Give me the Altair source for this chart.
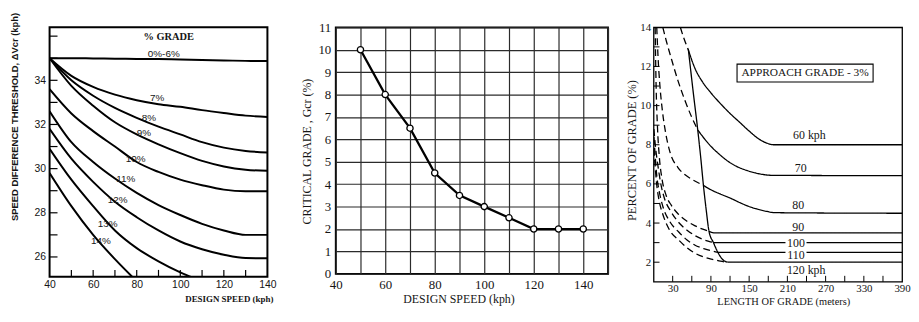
import altair as alt
import pandas as pd

SANS = "Liberation Sans"
SERIF = "Liberation Serif"
INK = "#151515"
TOP = -15

# ---------------- Panel 1: speed difference threshold vs design speed ----------------
P1_SPEED = [40, 50, 60, 70, 80, 90, 100, 110, 120, 130, 140]
P1_G0_6 = [35.0, 35.0, 34.99, 34.98, 34.97, 34.96, 34.94, 34.92, 34.9, 34.88, 34.87]
P1_G7 = [35.0, 34.2, 33.7, 33.35, 33.1, 32.92, 32.8, 32.65, 32.52, 32.4, 32.34]
P1_G8 = [35.0, 34.0, 33.3, 32.75, 32.3, 31.9, 31.55, 31.2, 30.95, 30.8, 30.73]
P1_G9 = [35.0, 33.75, 32.85, 32.1, 31.55, 31.1, 30.7, 30.35, 30.1, 29.95, 29.9]
P1_G10 = [33.6, 32.5, 31.7, 31.0, 30.3, 29.85, 29.5, 29.25, 29.05, 28.98, 28.98]
P1_G11 = [32.6, 31.2, 30.3, 29.55, 28.9, 28.35, 27.9, 27.5, 27.2, 27.0, 27.0]
P1_G12 = [31.8, 30.45, 29.4, 28.5, 27.8, 27.2, 26.7, 26.35, 26.1, 25.95, 25.94]
P1_G13_SPEED = [40, 50, 60, 70, 80, 90, 100, 110]
P1_G13 = [30.9, 29.5, 28.3, 27.2, 26.4, 25.8, 25.3, 24.9]
P1_G14_SPEED = [40, 50, 60, 70, 80]
P1_G14 = [29.8, 28.3, 27.0, 25.9, 24.9]

P1_LABELS = ["0%-6%", "7%", "8%", "9%", "10%", "11%", "12%", "13%", "14%"]
P1_LABEL_X = [92.4, 89.4, 85.6, 83.3, 79.5, 75.0, 71.2, 66.7, 63.6]
P1_LABEL_Y = [35.17, 33.2, 32.3, 31.6, 30.43, 29.53, 28.6, 27.5, 26.7]
P1_HEAD = ["% GRADE"]
P1_HEAD_X = [94.7]
P1_HEAD_Y = [35.96]
P1_YTICKS = [26, 27, 28, 29, 30, 31, 32, 33, 34, 35, 36]
P1_XTICKS = [50, 60, 70, 80, 90, 100, 110, 120, 130]

# ---------------- Panel 2: critical grade vs design speed ----------------
P2_SPEED = [50, 60, 70, 80, 90, 100, 110, 120, 130, 140]
P2_GRADE = [10, 8, 6.5, 4.5, 3.5, 3, 2.5, 2, 2, 2]

# ---------------- Panel 3: percent of grade vs length of grade ----------------
P3_60_DASH_M = [42, 48, 54.5]
P3_60_DASH_V = [14.0, 13.4, 12.85]
P3_60_M = [54.5, 65, 77, 90, 105, 120, 135, 150, 165, 178, 188, 390]
P3_60_V = [12.85, 11.9, 11.2, 10.65, 10.1, 9.6, 9.15, 8.7, 8.3, 8.08, 8.0, 8.0]
P3_70_DASH_M = [14.5, 20, 27, 38, 50, 60, 69.5]
P3_70_DASH_V = [14.0, 13.3, 12.5, 11.3, 10.2, 9.4, 8.75]
P3_70_M = [69.5, 80, 90, 102, 115, 130, 147, 160, 172, 185, 390]
P3_70_V = [8.75, 8.3, 7.92, 7.55, 7.2, 6.9, 6.68, 6.56, 6.48, 6.44, 6.42]
P3_80_DASH_M = [5, 7, 10, 14, 19, 26, 38, 50, 62, 78]
P3_80_DASH_V = [14.0, 12.5, 11.0, 9.7, 8.6, 7.6, 6.85, 6.45, 6.2, 5.93]
P3_80_M = [78, 90, 105, 122, 135, 147, 162, 177, 190, 390]
P3_80_V = [5.93, 5.7, 5.48, 5.25, 5.05, 4.88, 4.72, 4.6, 4.53, 4.5]
P3_90_DASH_M = [2.5, 4, 6, 9, 13, 19.5, 28, 39, 52, 64.5, 76, 87]
P3_90_DASH_V = [14.0, 11.0, 9.0, 7.4, 6.3, 5.43, 4.9, 4.45, 4.1, 3.87, 3.7, 3.58]
P3_90_M = [87, 95, 390]
P3_90_V = [3.58, 3.5, 3.5]
P3_100_DASH_M = [0.5, 3, 7, 12, 17, 27, 39.5, 52, 64.5, 77, 89.5, 94]
P3_100_DASH_V = [8.8, 7.9, 6.9, 5.9, 5.27, 4.6, 4.03, 3.65, 3.37, 3.17, 3.04, 3.0]
P3_100_A_M = [94, 207]
P3_100_B_M = [240, 390]
P3_100_LEVEL = 3.0
P3_110_DASH_M = [0.5, 2, 4.5, 9, 14.5, 25, 39.5, 52, 64.5, 80, 94.5, 101]
P3_110_DASH_V = [8.4, 7.7, 6.6, 5.6, 4.86, 4.1, 3.54, 3.15, 2.88, 2.68, 2.55, 2.5]
P3_110_A_M = [101, 207]
P3_110_B_M = [240, 390]
P3_110_LEVEL = 2.5
P3_120_DASH_M = [0.5, 2, 4.5, 9, 14.5, 25, 39.5, 52, 64.5, 80, 94.5, 105, 116]
P3_120_DASH_V = [7.8, 7.1, 6.1, 5.1, 4.45, 3.65, 3.13, 2.75, 2.47, 2.25, 2.13, 2.05, 2.0]
P3_120_M = [116, 390]
P3_120_V = [2.0, 2.0]
P3_LIMIT_M = [54.5, 62, 69, 74, 78, 82.5, 87, 94, 101, 108, 116]
P3_LIMIT_V = [12.9, 10.75, 8.85, 7.35, 6.0, 4.7, 3.58, 3.0, 2.5, 2.15, 2.0]

P3_LABELS = ["60 kph", "70", "80", "90", "100", "110", "120 kph"]
P3_LABEL_M = [244.5, 231, 227, 227, 223.5, 223.5, 239.5]
P3_LABEL_V = [8.49, 6.81, 4.91, 3.82, 3.0, 2.36, 1.59]
P3_BOX_M = [131, 344.5]
P3_BOX_V = [11.21, 12.12]
P3_BOX_TEXT = "APPROACH  GRADE - 3%"
P3_YTICKS = [2, 3, 4, 5, 6, 7, 8, 9, 10, 11, 12, 13]
P3_XTICKS = [30, 60, 90, 120, 150, 180, 210, 240, 270, 300, 330, 360]


def spacer(x, y):
    return alt.Chart(pd.DataFrame({"s": [0]})).mark_rule(color="white", strokeWidth=0.5).encode(
        x=alt.value(x), x2=alt.value(x), y=alt.value(y), y2=alt.value(y + 1))


# ================= Panel 1 =================
W1, H1 = 220, 252
rows = []
for g, xs, ys in [("0-6", P1_SPEED, P1_G0_6), ("7", P1_SPEED, P1_G7), ("8", P1_SPEED, P1_G8),
                  ("9", P1_SPEED, P1_G9), ("10", P1_SPEED, P1_G10), ("11", P1_SPEED, P1_G11),
                  ("12", P1_SPEED, P1_G12), ("13", P1_G13_SPEED, P1_G13), ("14", P1_G14_SPEED, P1_G14)]:
    for s, v in zip(xs, ys):
        rows.append({"x": s, "y": v, "grade": g})
df1 = pd.DataFrame(rows)

sx1 = alt.Scale(domain=[40, 140], nice=False, zero=False)
sy1 = alt.Scale(domain=[25.1, 36.4], nice=False, zero=False)
ax1 = alt.Axis(values=[40, 60, 80, 100, 120, 140], ticks=False, domain=False, grid=False,
               labelFlush=False, labelOverlap=False,
               labelFont=SANS, labelFontSize=10.5, labelColor=INK, labelPadding=3,
               title="DESIGN SPEED  (kph)", titleFont=SERIF, titleFontWeight="bold", titleFontSize=9,
               titleColor=INK, titleX=181, titleY=22, titleAlign="center", titleBaseline="middle")
ay1 = alt.Axis(values=[26, 28, 30, 32, 34], ticks=False, domain=False, grid=False, labelOverlap=False,
               labelFont=SANS, labelFontSize=10.5, labelColor=INK, labelPadding=4,
               title="SPEED DIFFERENCE THRESHOLD, ΔVcr  (kph)", titleFont=SANS, titleFontWeight="bold",
               titleFontSize=9.5, titleColor=INK, titleX=-35, titleY=90, titleAngle=270,
               titleAlign="center", titleBaseline="middle")
X1 = alt.X("x:Q", scale=sx1, axis=ax1)
Y1 = alt.Y("y:Q", scale=sy1, axis=ay1)

lines1 = alt.Chart(df1).mark_line(color="black", strokeWidth=2, clip=True, interpolate="monotone").encode(
    x=X1, y=Y1, detail="grade:N")
lab1 = alt.Chart(pd.DataFrame({"t": P1_LABELS, "x": P1_LABEL_X, "y": P1_LABEL_Y})).mark_text(
    font=SANS, fontSize=10, color=INK).encode(x=X1, y=Y1, text="t:N")
head1 = alt.Chart(pd.DataFrame({"t": P1_HEAD, "x": P1_HEAD_X, "y": P1_HEAD_Y})).mark_text(
    font=SERIF, fontSize=10.5, fontWeight="bold", color=INK).encode(x=X1, y=Y1, text="t:N")
yt1 = alt.Chart(pd.DataFrame({"y": P1_YTICKS})).mark_rule(color="black", strokeWidth=1.2).encode(
    y=Y1, x=alt.value(0), x2=alt.value(8))
xt1 = alt.Chart(pd.DataFrame({"x": P1_XTICKS})).mark_rule(color="black", strokeWidth=1.2).encode(
    x=X1, y=alt.value(H1), y2=alt.value(H1 - 7))

p1 = alt.layer(lines1, lab1, head1, yt1, xt1, spacer(236, TOP), spacer(-40, 250)).properties(
    width=W1, height=H1, view=alt.ViewBackground(stroke="black", strokeWidth=2))

# ================= Panel 2 =================
W2, H2 = 275, 249
df2 = pd.DataFrame({"x": P2_SPEED, "y": P2_GRADE})
sx2 = alt.Scale(domain=[40, 150], nice=False, zero=False)
sy2 = alt.Scale(domain=[0, 11], nice=False, zero=False)
ax2 = alt.Axis(values=list(range(40, 151, 10)),
               labelExpr="datum.value % 20 == 0 && datum.value < 150 ? datum.label : ''",
               grid=True, gridColor="#2b2b2b", gridWidth=1.2, ticks=False, domain=False,
               labelOverlap=False,
               labelFont=SERIF, labelFontSize=13, labelColor=INK, labelPadding=5, labelFlush=False,
               title="DESIGN SPEED (kph)", titleFont=SERIF, titleFontWeight="normal", titleFontSize=12,
               titleColor=INK, titleX=124, titleY=25, titleAlign="center", titleBaseline="middle")
ay2 = alt.Axis(values=list(range(0, 12)), grid=True, gridColor="#2b2b2b", gridWidth=1.2, ticks=False,
               domain=False, labelOverlap=False,
               labelFont=SERIF, labelFontSize=13, labelColor=INK, labelPadding=5,
               title="CRITICAL  GRADE , Gcr  (%)", titleFont=SERIF, titleFontWeight="normal",
               titleFontSize=12, titleColor=INK, titleX=-29, titleY=125, titleAngle=270,
               titleAlign="center", titleBaseline="middle")
X2 = alt.X("x:Q", scale=sx2, axis=ax2)
Y2 = alt.Y("y:Q", scale=sy2, axis=ay2)
line2 = alt.Chart(df2).mark_line(color="black", strokeWidth=2.3).encode(x=X2, y=Y2)
pts2 = alt.Chart(df2).mark_point(shape="circle", filled=True, fill="white", stroke="black",
                                 strokeWidth=1.3, size=40, opacity=1).encode(x=X2, y=Y2)
p2 = alt.layer(line2, pts2, spacer(276, TOP), spacer(-36, 249)).properties(
    width=W2, height=H2, view=alt.ViewBackground(stroke="black", strokeWidth=1.8))

# ================= Panel 3 =================
W3, H3 = 251, 257
rows3 = []


def add(key, style, ms, vs):
    for m, v in zip(ms, vs):
        rows3.append({"x": m, "y": v, "key": key, "style": style})


add("60d", "dashed", P3_60_DASH_M, P3_60_DASH_V)
add("60s", "solid", P3_60_M, P3_60_V)
add("70d", "dashed", P3_70_DASH_M, P3_70_DASH_V)
add("70s", "solid", P3_70_M, P3_70_V)
add("80d", "dashed", P3_80_DASH_M, P3_80_DASH_V)
add("80s", "solid", P3_80_M, P3_80_V)
add("90d", "dashed", P3_90_DASH_M, P3_90_DASH_V)
add("90s", "solid", P3_90_M, P3_90_V)
add("100d", "dashed", P3_100_DASH_M, P3_100_DASH_V)
add("100a", "solid", P3_100_A_M, [P3_100_LEVEL] * 2)
add("100b", "solid", P3_100_B_M, [P3_100_LEVEL] * 2)
add("110d", "dashed", P3_110_DASH_M, P3_110_DASH_V)
add("110a", "solid", P3_110_A_M, [P3_110_LEVEL] * 2)
add("110b", "solid", P3_110_B_M, [P3_110_LEVEL] * 2)
add("120d", "dashed", P3_120_DASH_M, P3_120_DASH_V)
add("120s", "solid", P3_120_M, P3_120_V)
add("limit", "solid", P3_LIMIT_M, P3_LIMIT_V)
df3 = pd.DataFrame(rows3)

sx3 = alt.Scale(domain=[0, 390], nice=False, zero=False)
sy3 = alt.Scale(domain=[1, 14], nice=False, zero=False)
ax3 = alt.Axis(values=[30, 90, 150, 210, 270, 330, 390], ticks=False, domain=False, grid=False,
               labelOverlap=False,
               labelFont=SERIF, labelFontSize=11, labelColor=INK, labelPadding=1, labelFlush=False,
               title="LENGTH OF GRADE (meters)", titleFont=SERIF, titleFontWeight="normal",
               titleFontSize=10.5, titleColor=INK, titleX=131, titleY=20, titleAlign="center",
               titleBaseline="middle")
ay3 = alt.Axis(values=[2, 4, 6, 8, 10, 12, 14], ticks=False, domain=False, grid=False,
               labelOverlap=False,
               labelFont=SERIF, labelFontSize=11, labelColor=INK, labelPadding=3,
               title="PERCENT OF GRADE  (%)", titleFont=SERIF, titleFontWeight="normal",
               titleFontSize=12.5, titleColor=INK, titleX=-22, titleY=124, titleAngle=270,
               titleAlign="center", titleBaseline="middle")
X3 = alt.X("x:Q", scale=sx3, axis=ax3)
Y3 = alt.Y("y:Q", scale=sy3, axis=ay3)
lines3 = alt.Chart(df3).mark_line(color="black", strokeWidth=1.3, clip=True, interpolate="monotone").encode(
    x=X3, y=Y3, detail="key:N",
    strokeDash=alt.StrokeDash("style:N", scale=alt.Scale(domain=["solid", "dashed"],
                                                        range=[[1, 0], [7, 4]]), legend=None))
lab3 = alt.Chart(pd.DataFrame({"t": P3_LABELS, "x": P3_LABEL_M, "y": P3_LABEL_V})).mark_text(
    font=SERIF, fontSize=12, color=INK).encode(x=X3, y=Y3, text="t:N")
box3 = alt.Chart(pd.DataFrame({"x": [P3_BOX_M[0]], "x2": [P3_BOX_M[1]], "y": [P3_BOX_V[0]],
                               "y2": [P3_BOX_V[1]]})).mark_rect(fill="white", stroke="black",
                                                                strokeWidth=1.1).encode(
    x=X3, x2="x2:Q", y=Y3, y2="y2:Q")
boxt3 = alt.Chart(pd.DataFrame({"t": [P3_BOX_TEXT], "x": [sum(P3_BOX_M) / 2],
                                "y": [sum(P3_BOX_V) / 2]})).mark_text(
    font=SERIF, fontSize=11.5, color=INK).encode(x=X3, y=Y3, text="t:N")
yt3 = alt.Chart(pd.DataFrame({"y": P3_YTICKS})).mark_rule(color="black", strokeWidth=1).encode(
    y=Y3, x=alt.value(0), x2=alt.value(6))
xt3 = alt.Chart(pd.DataFrame({"x": P3_XTICKS})).mark_rule(color="black", strokeWidth=1).encode(
    x=X3, y=alt.value(H3), y2=alt.value(H3 - 6))

p3 = alt.layer(lines3, box3, boxt3, lab3, yt3, xt3, spacer(W3, TOP), spacer(-29, 256)).properties(
    width=W3, height=H3, view=alt.ViewBackground(stroke="black", strokeWidth=1.3))

chart = alt.hconcat(p1, p2, p3, spacing=13, padding=0, background="white",
                    autosize=alt.AutoSizeParams(type="pad"))

chart.save("out.html", embed_options={"renderer": "svg", "actions": False})
